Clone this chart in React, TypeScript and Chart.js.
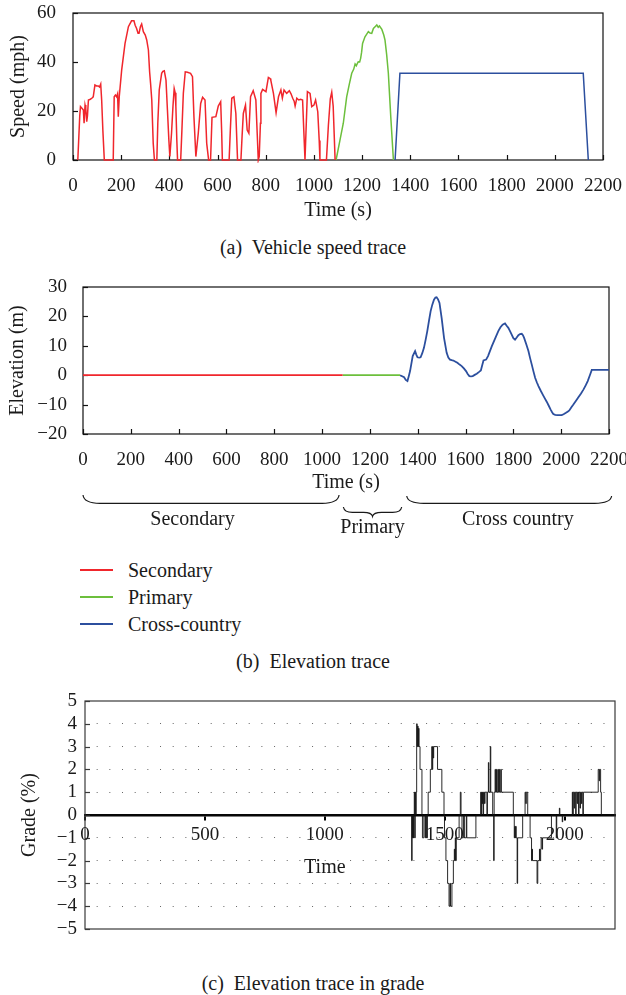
import React, { useEffect, useRef } from 'react';
import { Chart, registerables } from 'chart.js';

Chart.register(...registerables);

const FONT = "'Liberation Serif', 'Times New Roman', serif";
Chart.defaults.font.family = FONT;
Chart.defaults.color = '#1a1a1a';

const RED = '#f0262c';
const GREEN = '#6cbf3c';
const BLUE = '#2c4f9e';

// ---------- (a) Vehicle speed trace ----------
const secondarySpeedTime = [20, 28, 31, 38, 43, 46, 50, 53, 57, 60, 64, 72, 78, 84, 91, 98, 105, 110, 115, 119, 124, 130, 167, 171, 176, 181, 185, 188, 192, 202, 216, 230, 243, 253, 258, 264, 270, 274, 280, 285, 292, 300, 306, 313, 318, 322, 327, 333, 338, 348, 352, 358, 368, 373, 379, 386, 392, 398, 402, 409, 415, 420, 424, 427, 431, 434, 447, 452, 458, 466, 475, 488, 496, 502, 510, 520, 530, 538, 548, 555, 563, 571, 577, 593, 603, 613, 617, 620, 648, 653, 659, 668, 676, 683, 697, 702, 707, 716, 723, 730, 737, 748, 759, 765, 769, 773, 778, 780, 787, 801, 811, 818, 821, 832, 843, 853, 863, 869, 876, 887, 898, 905, 912, 918, 922, 929, 937, 945, 953, 958, 963, 968, 973, 984, 991, 1000, 1007, 1016, 1022, 1025, 1052, 1060, 1068, 1074, 1080, 1088];
const secondarySpeed = [0, 18, 21.8, 21, 20.4, 15, 22.4, 21, 15.6, 18, 24.5, 24.8, 25.2, 25.8, 30.6, 30.2, 30.2, 29.8, 31, 24.5, 12, 0, 0, 25.8, 26.5, 25.8, 27, 17.7, 25.8, 36.7, 47.6, 54.4, 56.8, 56.8, 55, 53.7, 51.7, 51.7, 54.5, 55.5, 52.4, 51, 49, 44.9, 36, 31.3, 24.5, 6.8, 0, 0, 15, 28.6, 35.4, 36.2, 36.4, 32.6, 20.4, 8, 1.4, 10.9, 22, 29.2, 27.5, 21.8, 8, 0, 0, 12, 27.2, 36, 35.8, 35.4, 34, 17.7, 1.4, 10.9, 23.1, 25.6, 24.5, 6.8, 0, 0, 17.4, 17.7, 22, 23.8, 12, 0, 0, 12, 25.2, 25.8, 19, 0, 0, 10, 19, 22.4, 12.2, 10.9, 25.8, 28.3, 24.5, 10, 0, 1.4, 15, 27.2, 28.8, 27.9, 33.7, 33.3, 32.6, 27.2, 19.3, 25.8, 28.6, 25.2, 28.6, 27.2, 28.3, 27, 25.2, 24, 22, 25.2, 24.5, 24.8, 24.5, 12, 0, 14, 27.9, 27.2, 21.8, 22.4, 24.5, 19.7, 8, 0, 0, 14, 25, 27.7, 22, 0];
const primarySpeedTime = [1092, 1108, 1122, 1136, 1147, 1157, 1165, 1171, 1176, 1184, 1190, 1194, 1198, 1202, 1212, 1220, 1226, 1233, 1240, 1247, 1255, 1261, 1267, 1272, 1282, 1290, 1295, 1302, 1309, 1319, 1330];
const primarySpeed = [0, 8, 15, 25.8, 31, 35.4, 37, 39.2, 38.5, 40.1, 40, 41.5, 44, 47.6, 50.3, 51.5, 52.4, 51.8, 51.7, 53.7, 54.5, 55.1, 54.2, 54.7, 53.3, 51, 49, 43, 35.4, 17.7, 0];
const crossSpeedTime = [1337, 1357, 2118, 2139];
const crossSpeed = [0, 35.4, 35.4, 0];

// ---------- (b) Elevation trace ----------
const secondaryElevTime = [0, 1086];
const secondaryElev = [0, 0];
const primaryElevTime = [1086, 1326];
const primaryElev = [0, 0];
const crossElevTime = [1326, 1343, 1350, 1357, 1362, 1368, 1379, 1389, 1394, 1399, 1406, 1412, 1419, 1426, 1433, 1440, 1447, 1454, 1461, 1468, 1474, 1479, 1485, 1491, 1500, 1510, 1521, 1528, 1535, 1542, 1549, 1558, 1566, 1575, 1584, 1593, 1602, 1609, 1616, 1623, 1630, 1640, 1647, 1658, 1664, 1670, 1675, 1686, 1694, 1702, 1710, 1719, 1728, 1737, 1746, 1755, 1765, 1772, 1779, 1786, 1793, 1800, 1807, 1814, 1821, 1828, 1835, 1840, 1845, 1854, 1863, 1870, 1877, 1884, 1891, 1898, 1905, 1914, 1923, 1931, 1940, 1948, 1956, 1962, 1967, 1975, 1984, 1993, 2002, 2010, 2020, 2027, 2034, 2042, 2051, 2062, 2072, 2083, 2093, 2103, 2111, 2120, 2128, 2200];
const crossElev = [0, -0.7, -1.6, -2, -0.5, 1.4, 6.5, 8.2, 7, 6.1, 6, 6.1, 7.5, 9.3, 12, 15, 18.5, 21.8, 24, 25.7, 26.4, 26.5, 25.8, 24.6, 19.5, 12.7, 7.6, 6, 5.3, 5.1, 5.0, 4.6, 4.2, 3.6, 3.1, 2.3, 1.4, 0.4, -0.3, -0.4, -0.3, 0.2, 0.5, 1.2, 1.6, 3.5, 5, 5.3, 6.5, 8.2, 9.9, 11.6, 13.3, 15, 16.3, 17.2, 17.6, 16.8, 16.1, 15, 13.8, 12.6, 12.1, 12.8, 13.6, 14, 14.1, 13.6, 12.7, 10.5, 8.2, 5.8, 3.6, 1.3, -0.9, -2.4, -3.7, -5.2, -6.6, -7.8, -9.1, -10.4, -11.7, -12.6, -13.2, -13.5, -13.6, -13.6, -13.6, -13.3, -12.8, -12.4, -12, -11, -10, -8.7, -7.5, -6.2, -4.9, -3.4, -2, 0, 1.8, 1.8];

const braceLabels = ['Secondary', 'Primary', 'Cross country'];
const braceStart = [0, 1089, 1354];
const braceEnd = [1071, 1333, 2211];
const braceLabelAt = [458, 1211, 1819];

const legendLabels = ['Secondary', 'Primary', 'Cross-country'];
const legendColors = [RED, GREEN, BLUE];

// ---------- (c) Elevation trace in grade ----------
const gradeTickValues = [0, 500, 1000, 1500, 2000];
const gradeTime = [0, 1360, 1362, 1364, 1366, 1368, 1369, 1371, 1373, 1375, 1377, 1379, 1381, 1383, 1385, 1387, 1389, 1391, 1393, 1397, 1405, 1407, 1413, 1418, 1420, 1424, 1428, 1431, 1440, 1446, 1448, 1450, 1452, 1454, 1470, 1488, 1497, 1499, 1505, 1512, 1518, 1522, 1524, 1530, 1536, 1540, 1542, 1544, 1546, 1548, 1560, 1565, 1568, 1572, 1578, 1582, 1590, 1592, 1630, 1650, 1652, 1654, 1656, 1658, 1660, 1662, 1666, 1668, 1676, 1678, 1682, 1684, 1690, 1692, 1700, 1704, 1706, 1710, 1712, 1716, 1718, 1722, 1724, 1728, 1730, 1734, 1736, 1786, 1790, 1792, 1794, 1796, 1798, 1802, 1804, 1825, 1835, 1838, 1840, 1846, 1856, 1862, 1864, 1866, 1885, 1888, 1895, 1897, 1900, 1902, 1906, 1908, 1945, 1965, 1967, 1978, 1980, 1990, 1992, 2032, 2034, 2036, 2040, 2042, 2046, 2048, 2052, 2054, 2058, 2060, 2064, 2066, 2070, 2072, 2076, 2078, 2140, 2144, 2146, 2150, 2153, 2210];
const gradeValue = [0, 0, -2, 0, -1, 0, -1, 0, 1, -1, 1, 0, 1, 4, 3, 3.9, 3, 3.8, 3, 2, 0, -1, 0, -1, 0, -1, 0, 1, 2, 3, 2, 3, 2.5, 3, 2, 1, 0, -1, -2, -3, -4, -3, -4, -3, -2, -1.5, -2, -1, -2, -1, 0, 1, 0, -1, 0, -1, 0, -1, 0, 1, 0, 1, 0.5, 1, 0, 1, 0.5, 1, 0, 1, 2.3, 1, 3, 1, 0, -2, 1, 2, 1, 2, 1, 2, 1, 2, 1, 2, 1, 0, -1, -0.5, -1, -0.5, -1, -3, -1, 0, 1, 0.5, 1, 0, -1, -2, -1.5, -2, -3, -2, -1.5, -2, -1.5, -1, -1.5, -1, 0, -1, 0, 0.3, 0, -0.3, 0, 1, 0, 1, 0.3, 1, 0, 1, 0.5, 1, 0, 1, 0.3, 1, 0.5, 1, 0, 1, 2, 1.5, 2, 1, 0, 0];

const zip = (xs: number[], ys: number[]) => xs.map((x, i) => ({ x, y: ys[i] }));
const fmtNum = (v: any) => (Number(v) < 0 ? '\u2212' + Math.abs(Number(v)) : String(v));

// frame + inner ticks
const framePlugin = {
  id: 'frame',
  beforeDatasetsDraw(chart: any, _a: any, opts: any) {
    const { ctx, chartArea: a } = chart;
    ctx.save();
    ctx.strokeStyle = opts.color || '#111';
    ctx.lineWidth = opts.width || 1.2;
    ctx.strokeRect(a.left, a.top, a.right - a.left, a.bottom - a.top);
    const len = 5;
    if (opts.xTicks) {
      const s = chart.scales.x;
      s.ticks.forEach((t: any) => {
        const px = Math.round(s.getPixelForValue(t.value)) + 0.5;
        ctx.beginPath();
        ctx.moveTo(px, a.bottom);
        ctx.lineTo(px, a.bottom - len);
        ctx.stroke();
      });
    }
    if (opts.yTicks) {
      const s = chart.scales.y;
      s.ticks.forEach((t: any) => {
        const py = Math.round(s.getPixelForValue(t.value)) + 0.5;
        ctx.beginPath();
        ctx.moveTo(a.left, py);
        ctx.lineTo(a.left + len, py);
        ctx.stroke();
      });
    }
    ctx.restore();
  },
};

function drawBrace(ctx: any, x0: number, x1: number, yTop: number, depth: number, tip: number, r: number) {
  const xm = (x0 + x1) / 2;
  const yb = yTop + depth;
  ctx.beginPath();
  ctx.moveTo(x0, yTop);
  ctx.quadraticCurveTo(x0 + 1, yb, x0 + r, yb);
  if (tip > 0) {
    ctx.lineTo(xm - r, yb);
    ctx.quadraticCurveTo(xm - 1, yb, xm, yb + tip);
    ctx.quadraticCurveTo(xm + 1, yb, xm + r, yb);
  }
  ctx.lineTo(x1 - r, yb);
  ctx.quadraticCurveTo(x1 - 1, yb, x1, yTop);
  ctx.stroke();
}

const bracePlugin = {
  id: 'braces',
  afterDraw(chart: any, _a: any, opts: any) {
    const { ctx, chartArea } = chart;
    const xs = chart.scales.x;
    ctx.save();
    ctx.strokeStyle = '#1a1a1a';
    ctx.lineWidth = 1.2;
    ctx.fillStyle = '#1a1a1a';
    ctx.font = `20px ${FONT}`;
    ctx.textAlign = 'center';
    ctx.textBaseline = 'middle';
    braceLabels.forEach((lab, i) => {
      const x0 = xs.getPixelForValue(braceStart[i]);
      const x1 = xs.getPixelForValue(braceEnd[i]);
      drawBrace(ctx, x0, x1, chartArea.bottom + opts.top[i], opts.depth[i], opts.tip[i], opts.radius[i]);
      ctx.fillText(lab, xs.getPixelForValue(braceLabelAt[i]), chartArea.bottom + opts.labelY[i]);
    });
    ctx.restore();
  },
};

// x tick labels placed under the zero line + axis title anchored in data coordinates
const zeroAxisTextPlugin = {
  id: 'zeroAxisText',
  afterDraw(chart: any, _a: any, opts: any) {
    if (!opts || !opts.title) return;
    const { ctx } = chart;
    const xs = chart.scales.x;
    const ys = chart.scales.y;
    const y0 = ys.getPixelForValue(0);
    ctx.save();
    ctx.fillStyle = '#1a1a1a';
    ctx.textAlign = 'center';
    ctx.textBaseline = 'middle';
    ctx.font = `19px ${FONT}`;
    xs.ticks.forEach((t: any) => {
      ctx.fillText(fmtNum(t.value), xs.getPixelForValue(t.value), y0 + opts.labelOffset);
    });
    ctx.font = `20px ${FONT}`;
    ctx.fillText(opts.title, xs.getPixelForValue(opts.titleX), ys.getPixelForValue(opts.titleY));
    ctx.restore();
  },
};

const tickFont = { size: 19 };
const titleFont = { size: 20 };

function fitY(width: number) {
  return (s: any) => {
    s.width = width;
    s.paddingTop = 0;
    s.paddingBottom = 0;
  };
}
function fitX(height: number) {
  return (s: any) => {
    s.height = height;
    s.paddingLeft = 0;
    s.paddingRight = 0;
  };
}

const lineDs = (label: string, data: any[], color: string, width: number) => ({
  label,
  data,
  borderColor: color,
  backgroundColor: color,
  borderWidth: width,
  pointRadius: 0,
  fill: false,
  clip: 3,
});

const plainTick = (v: any) => fmtNum(v);

function configA(): any {
  return {
    type: 'line',
    data: {
      datasets: [
        lineDs('Secondary', zip(secondarySpeedTime, secondarySpeed), RED, 1.5),
        lineDs('Primary', zip(primarySpeedTime, primarySpeed), GREEN, 1.5),
        lineDs('Cross-country', zip(crossSpeedTime, crossSpeed), BLUE, 1.5),
      ],
    },
    options: {
      responsive: false,
      animation: false,
      layout: { padding: { left: 0, top: 13, right: 23, bottom: 0 } },
      plugins: { legend: { display: false }, tooltip: { enabled: false }, frame: { xTicks: true, yTicks: true } },
      scales: {
        x: {
          type: 'linear', min: 0, max: 2200,
          ticks: { stepSize: 200, padding: 7, maxRotation: 0, autoSkip: false, font: tickFont, callback: plainTick },
          grid: { display: false }, border: { display: false },
          title: { display: true, text: 'Time (s)', font: titleFont, padding: { top: 0, bottom: 2 } },
          afterFit: fitX(65),
        },
        y: {
          type: 'linear', min: 0, max: 60,
          ticks: { stepSize: 20, padding: 9, autoSkip: false, font: tickFont, callback: plainTick },
          grid: { display: false }, border: { display: false },
          title: { display: true, text: 'Speed (mph)', font: titleFont, padding: { top: 7, bottom: 0 } },
          afterFit: fitY(73),
        },
      },
    },
    plugins: [framePlugin],
  };
}

function configB(): any {
  return {
    type: 'line',
    data: {
      datasets: [
        lineDs('Secondary', zip(secondaryElevTime, secondaryElev), RED, 1.8),
        lineDs('Primary', zip(primaryElevTime, primaryElev), GREEN, 1.8),
        lineDs('Cross-country', zip(crossElevTime, crossElev), BLUE, 1.8),
      ],
    },
    options: {
      responsive: false,
      animation: false,
      layout: { padding: { left: 0, top: 22, right: 17, bottom: 0 } },
      plugins: {
        legend: { display: false }, tooltip: { enabled: false },
        frame: { xTicks: true, yTicks: true },
        braces: { top: [61, 73, 62], depth: [8.3, 5.4, 7.3], tip: [0, 4, 0], radius: [17, 9, 17], labelY: [86, 94, 86] },
      },
      scales: {
        x: {
          type: 'linear', min: 0, max: 2200,
          ticks: { stepSize: 200, padding: 7, maxRotation: 0, autoSkip: false, font: tickFont, callback: plainTick },
          grid: { display: false }, border: { display: false },
          title: { display: true, text: 'Time (s)', font: titleFont, padding: { top: 0, bottom: 50 } },
          afterFit: fitX(111),
        },
        y: {
          type: 'linear', min: -20, max: 30,
          ticks: { stepSize: 10, padding: 8, autoSkip: false, font: tickFont, callback: plainTick },
          grid: { display: false }, border: { display: false },
          title: { display: true, text: 'Elevation (m)', font: titleFont, padding: { top: 6, bottom: 0 } },
          afterFit: fitY(83),
        },
      },
    },
    plugins: [framePlugin, bracePlugin],
  };
}

function configC(): any {
  return {
    type: 'line',
    data: {
      datasets: [
        { ...lineDs('Grade', zip(gradeTime, gradeValue), '#111111', 0.9), stepped: true },
      ],
    },
    options: {
      responsive: false,
      animation: false,
      layout: { padding: { left: 0, top: 21, right: 11, bottom: 11 } },
      plugins: {
        legend: { display: false }, tooltip: { enabled: false },
        frame: { xTicks: false, yTicks: true, color: '#3a3a3a' },
        zeroAxisText: { title: 'Time', titleX: 1000, titleY: -2.3, labelOffset: 20 },
      },
      scales: {
        x: {
          type: 'linear', min: 0, max: 2210, position: { y: 0 },
          afterBuildTicks: (s: any) => { s.ticks = gradeTickValues.map((value) => ({ value })); },
          ticks: { display: false, autoSkip: false, maxRotation: 0 },
          grid: { display: true, drawOnChartArea: false, drawTicks: true, tickLength: 4, color: '#000', lineWidth: 2 },
          border: { display: true, color: '#000', width: 2.4 },
        },
        y: {
          type: 'linear', min: -5, max: 5,
          ticks: { stepSize: 1, padding: 8, autoSkip: false, font: tickFont, callback: plainTick },
          grid: {
            drawTicks: false, lineWidth: 1,
            color: (c: any) => (c.tick && (c.tick.value === 0 || Math.abs(c.tick.value) === 5) ? 'rgba(0,0,0,0)' : '#666'),
          },
          border: { display: false, dash: [1, 11.67], dashOffset: 1 },
          title: { display: true, text: 'Grade (%)', font: titleFont, padding: { top: 18, bottom: 0 } },
          afterFit: fitY(85),
        },
      },
    },
    plugins: [framePlugin, zeroAxisTextPlugin],
  };
}

function ChartCanvas({ makeConfig, top, height }: { makeConfig: () => any; top: number; height: number }) {
  const ref = useRef<HTMLCanvasElement | null>(null);
  useEffect(() => {
    if (!ref.current) return;
    const chart = new Chart(ref.current, makeConfig());
    return () => chart.destroy();
  }, []);
  return (
    <canvas
      ref={ref}
      width={626}
      height={height}
      style={{ position: 'absolute', left: 0, top, width: 626, height, display: 'block' }}
    />
  );
}

const captionStyle = (center: number): React.CSSProperties => ({
  position: 'absolute', left: 0, width: 626, top: center - 12, height: 24, lineHeight: '24px',
  textAlign: 'center', fontSize: 20, color: '#1a1a1a', whiteSpace: 'pre',
});

export default function App() {
  return (
    <div style={{ position: 'absolute', left: 0, top: 0, width: 626, height: 995, background: '#fff', fontFamily: FONT, overflow: 'hidden' }}>
      <ChartCanvas makeConfig={configA} top={0} height={225} />
      <div style={captionStyle(247)}>{'(a)  Vehicle speed trace'}</div>
      <ChartCanvas makeConfig={configB} top={265} height={280} />
      {legendLabels.map((lab, i) => (
        <div key={lab} style={{ position: 'absolute', left: 80, top: 570 + i * 27 - 13, height: 26, display: 'flex', alignItems: 'center', fontSize: 20, color: '#1a1a1a', whiteSpace: 'nowrap' }}>
          <span style={{ display: 'inline-block', width: 33, height: 0, borderTop: `2px solid ${legendColors[i]}`, marginRight: 15 }} />
          <span>{lab}</span>
        </div>
      ))}
      <div style={captionStyle(661)}>{'(b)  Elevation trace'}</div>
      <ChartCanvas makeConfig={configC} top={680} height={260} />
      <div style={captionStyle(983)}>{'(c)  Elevation trace in grade'}</div>
    </div>
  );
}
